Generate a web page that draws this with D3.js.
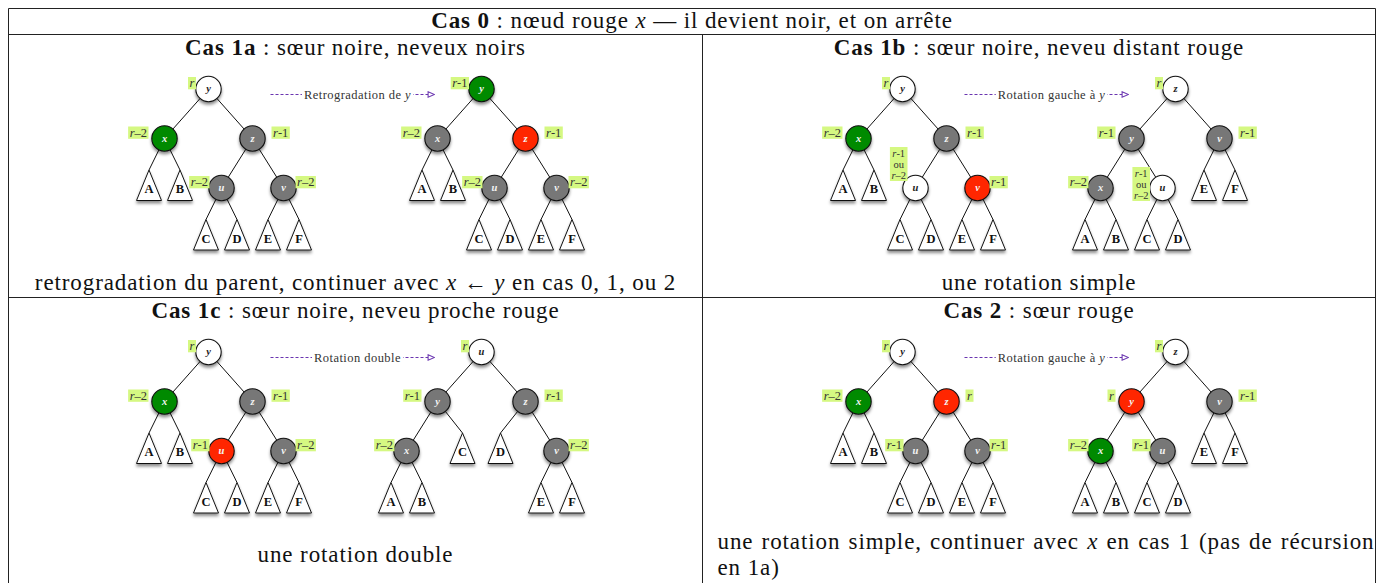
<!DOCTYPE html>
<html>
<head>
<meta charset="utf-8">
<script src="https://cdn.jsdelivr.net/npm/d3@7"></script>
<style>
  body { margin: 0; background: #fff; }
  svg { display: block; }
</style>
</head>
<body>
<script>
// Rich text pieces: [texte, style] with style "b" (bold), "i" (math italic) or "".
const titreCas0 = [["Cas 0", "b"], [" : nœud rouge ", ""], ["x", "i"], [" — il devient noir, et on arrête", ""]];
const titreCas1a = [["Cas 1a", "b"], [" : sœur noire, neveux noirs", ""]];
const titreCas1b = [["Cas 1b", "b"], [" : sœur noire, neveu distant rouge", ""]];
const titreCas1c = [["Cas 1c", "b"], [" : sœur noire, neveu proche rouge", ""]];
const titreCas2 = [["Cas 2", "b"], [" : sœur rouge", ""]];

const noteCas1a = [["retrogradation du parent, continuer avec ", ""], ["x", "i"], [" ← ", ""], ["y", "i"], [" en cas 0, 1, ou 2", ""]];
const noteCas1b = [["une rotation simple", ""]];
const noteCas1c = [["une rotation double", ""]];
const noteCas2 = [
  [["une rotation simple, continuer avec ", ""], ["x", "i"], [" en cas 1 (pas de récursion", ""]],
  [["en 1a)", ""]]
];

const flecheCas1a = [["Retrogradation de ", ""], ["y", "i"]];
const flecheCas1b = [["Rotation gauche à ", ""], ["y", "i"]];
const flecheCas1c = [["Rotation double", ""]];
const flecheCas2 = [["Rotation gauche à ", ""], ["y", "i"]];

// Trees: each node has its name, its colour state and its rank label; leaves are subtrees (triangles).
const OU = "r-1\nou\nr–2";
const cas1aAvant = {id: "y", etat: "blanc", rang: "r", enfants: [
  {id: "x", etat: "vert", rang: "r–2", enfants: ["A", "B"]},
  {id: "z", etat: "noir", rang: "r-1", enfants: [
    {id: "u", etat: "noir", rang: "r–2", enfants: ["C", "D"]},
    {id: "v", etat: "noir", rang: "r–2", enfants: ["E", "F"]}]}]};
const cas1aApres = {id: "y", etat: "vert", rang: "r-1", enfants: [
  {id: "x", etat: "noir", rang: "r–2", enfants: ["A", "B"]},
  {id: "z", etat: "rouge", rang: "r-1", enfants: [
    {id: "u", etat: "noir", rang: "r–2", enfants: ["C", "D"]},
    {id: "v", etat: "noir", rang: "r–2", enfants: ["E", "F"]}]}]};
const cas1bAvant = {id: "y", etat: "blanc", rang: "r", enfants: [
  {id: "x", etat: "vert", rang: "r–2", enfants: ["A", "B"]},
  {id: "z", etat: "noir", rang: "r-1", enfants: [
    {id: "u", etat: "blanc", rang: OU, enfants: ["C", "D"]},
    {id: "v", etat: "rouge", rang: "r-1", enfants: ["E", "F"]}]}]};
const cas1bApres = {id: "z", etat: "blanc", rang: "r", enfants: [
  {id: "y", etat: "noir", rang: "r-1", enfants: [
    {id: "x", etat: "noir", rang: "r–2", enfants: ["A", "B"]},
    {id: "u", etat: "blanc", rang: OU, enfants: ["C", "D"]}]},
  {id: "v", etat: "noir", rang: "r-1", enfants: ["E", "F"]}]};
const cas1cAvant = {id: "y", etat: "blanc", rang: "r", enfants: [
  {id: "x", etat: "vert", rang: "r–2", enfants: ["A", "B"]},
  {id: "z", etat: "noir", rang: "r-1", enfants: [
    {id: "u", etat: "rouge", rang: "r-1", enfants: ["C", "D"]},
    {id: "v", etat: "noir", rang: "r–2", enfants: ["E", "F"]}]}]};
const cas1cApres = {id: "u", etat: "blanc", rang: "r", enfants: [
  {id: "y", etat: "noir", rang: "r-1", enfants: [
    {id: "x", etat: "noir", rang: "r–2", enfants: ["A", "B"]}, "C"]},
  {id: "z", etat: "noir", rang: "r-1", enfants: [
    "D", {id: "v", etat: "noir", rang: "r–2", enfants: ["E", "F"]}]}]};
const cas2Avant = {id: "y", etat: "blanc", rang: "r", enfants: [
  {id: "x", etat: "vert", rang: "r–2", enfants: ["A", "B"]},
  {id: "z", etat: "rouge", rang: "r", enfants: [
    {id: "u", etat: "noir", rang: "r-1", enfants: ["C", "D"]},
    {id: "v", etat: "noir", rang: "r-1", enfants: ["E", "F"]}]}]};
const cas2Apres = {id: "z", etat: "blanc", rang: "r", enfants: [
  {id: "y", etat: "rouge", rang: "r", enfants: [
    {id: "x", etat: "vert", rang: "r–2", enfants: ["A", "B"]},
    {id: "u", etat: "noir", rang: "r-1", enfants: ["C", "D"]}]},
  {id: "v", etat: "noir", rang: "r-1", enfants: ["E", "F"]}]};

const cellules = [
  {col: 0, ligne: 0, titre: titreCas1a, avant: cas1aAvant, apres: cas1aApres, fleche: flecheCas1a, note: [noteCas1a]},
  {col: 1, ligne: 0, titre: titreCas1b, avant: cas1bAvant, apres: cas1bApres, fleche: flecheCas1b, note: [noteCas1b]},
  {col: 0, ligne: 1, titre: titreCas1c, avant: cas1cAvant, apres: cas1cApres, fleche: flecheCas1c, note: [noteCas1c]},
  {col: 1, ligne: 1, titre: titreCas2, avant: cas2Avant, apres: cas2Apres, fleche: flecheCas2, note: noteCas2}
];

const W = 1382, H = 583;
const couleurs = {blanc: "#ffffff", noir: "#777777", vert: "#008a00", rouge: "#ff2600"};
const police = "'Liberation Serif', 'Times New Roman', serif";
const tailleTexte = 23;
const espacement = 0.9;

const table = {gauche: 8.5, droite: 1375.5, haut: 8.5, sep0: 34.5, sepLigne: 297.5, milieu: 702.5};
const colonnes = [[table.gauche, table.milieu], [table.milieu, table.droite]];
const lignes = [[table.sep0, table.sepLigne], [table.sepLigne, H + 20]];

const svg = d3.select("body").append("svg").attr("width", W).attr("height", H);

const defs = svg.append("defs");
defs.append("filter").attr("id", "ombre")
  .attr("x", "-50%").attr("y", "-50%").attr("width", "200%").attr("height", "200%")
  .append("feDropShadow")
  .attr("dx", 0).attr("dy", 2.5).attr("stdDeviation", 1.4)
  .attr("flood-color", "#000").attr("flood-opacity", 0.45);
defs.append("marker").attr("id", "pointe")
  .attr("viewBox", "0 0 10 10").attr("refX", 9).attr("refY", 5)
  .attr("markerWidth", 8).attr("markerHeight", 8).attr("markerUnits", "userSpaceOnUse")
  .attr("orient", "auto")
  .append("path").attr("d", "M1,1.5 L9,5 L1,8.5 Z")
  .attr("fill", "#fff").attr("stroke", "#6a35b0").attr("stroke-width", 1.3);

// Writes rich text segments into a text element.
function ecrire(sel, morceaux) {
  morceaux.forEach(([t, s]) => {
    sel.append("tspan").text(t)
      .attr("font-weight", s === "b" ? "bold" : null)
      .attr("font-style", s === "i" ? "italic" : null);
  });
  return sel;
}

function texte(parent, x, y, ancre) {
  return parent.append("text").attr("x", x).attr("y", y)
    .attr("text-anchor", ancre).attr("font-family", police).attr("font-size", tailleTexte)
    .attr("letter-spacing", espacement).attr("fill", "#111");
}

// Table rules.
const regles = svg.append("g").attr("stroke", "#222").attr("stroke-width", 1);
regles.append("line").attr("x1", table.gauche).attr("x2", table.droite).attr("y1", table.haut).attr("y2", table.haut);
regles.append("line").attr("x1", table.gauche).attr("x2", table.droite).attr("y1", table.sep0).attr("y2", table.sep0);
regles.append("line").attr("x1", table.gauche).attr("x2", table.droite).attr("y1", table.sepLigne).attr("y2", table.sepLigne);
regles.append("line").attr("x1", table.gauche).attr("x2", table.gauche).attr("y1", table.haut).attr("y2", H);
regles.append("line").attr("x1", table.droite).attr("x2", table.droite).attr("y1", table.haut).attr("y2", H);
regles.append("line").attr("x1", table.milieu).attr("x2", table.milieu).attr("y1", table.sep0).attr("y2", H);

ecrire(texte(svg, (table.gauche + table.droite) / 2, 28, "middle"), titreCas0);

// Horizontal offset of a child from its parent.
function ecart(noeud) {
  const feuille = !noeud.children;
  const frere = noeud.parent.children.find(f => f !== noeud);
  const frereFeuille = frere && !frere.children;
  if (feuille && frereFeuille) return 15.5;
  if (feuille) return 25;
  return noeud.depth === 1 ? 44 : 31;
}

function dessinerArbre(g, donnees, x0, y0) {
  const racine = d3.hierarchy(donnees, d => (typeof d === "string" ? null : d.enfants));
  const pas = 49.5;
  racine.eachBefore(n => {
    if (!n.parent) { n.px = x0; }
    else {
      const cote = n.parent.children.indexOf(n) === 0 ? -1 : 1;
      n.px = n.parent.px + cote * ecart(n);
    }
    n.py = y0 + n.depth * pas;
    // the right spine gets its label on the right
    n.droite = !!n.parent && (n.parent.children.indexOf(n) === 1) && (!n.parent.parent || n.parent.droite);
  });

  const noeuds = racine.descendants();
  const internes = noeuds.filter(n => n.children);
  const feuilles = noeuds.filter(n => !n.children);

  g.append("g").attr("stroke", "#111").attr("stroke-width", 1)
    .selectAll("line").data(racine.links()).join("line")
    .attr("x1", d => d.source.px).attr("y1", d => d.source.py)
    .attr("x2", d => d.target.px).attr("y2", d => d.target.children ? d.target.py : d.target.py - 18);

  const tri = g.append("g").selectAll("g").data(feuilles).join("g")
    .attr("transform", d => `translate(${d.px},${d.py})`);
  tri.append("path")
    .attr("d", "M0,-18 L12.5,12.5 L-12.5,12.5 Z")
    .attr("fill", "#fff").attr("stroke", "#111").attr("stroke-width", 1)
    .attr("filter", "url(#ombre)");
  tri.append("text").text(d => d.data)
    .attr("y", 5.3).attr("text-anchor", "middle")
    .attr("font-family", police).attr("font-weight", "bold").attr("font-size", 12.5)
    .attr("fill", "#111");

  const rond = g.append("g").selectAll("g").data(internes).join("g")
    .attr("transform", d => `translate(${d.px},${d.py})`);
  rond.append("circle").attr("r", 12.7)
    .attr("fill", d => couleurs[d.data.etat])
    .attr("stroke", "#111").attr("stroke-width", 1.1)
    .attr("filter", "url(#ombre)");
  rond.append("text").text(d => d.data.id)
    .attr("y", 3.2).attr("text-anchor", "middle")
    .attr("font-family", police).attr("font-style", "italic").attr("font-weight", "bold")
    .attr("font-size", 10.5)
    .attr("fill", d => d.data.etat === "blanc" ? "#222" : "#f4f4f4");

  // rank labels on a lime background
  internes.forEach(n => {
    const lignesRang = n.data.rang.split("\n");
    const multi = lignesRang.length > 1;
    const lg = g.append("g");
    const fond = lg.append("rect").attr("fill", "#d5f882");
    const t = lg.append("text").attr("font-family", police).attr("font-size", multi ? 10.5 : 12.5)
      .attr("fill", "#333").attr("text-anchor", "middle");
    lignesRang.forEach((l, i) => {
      const ts = t.append("tspan").attr("x", 0).attr("dy", i === 0 ? 0 : 11);
      if (l.charAt(0) === "r") {
        ts.append("tspan").attr("font-style", "italic").text("r");
        ts.append("tspan").text(l.slice(1));
      } else {
        ts.text(l);
      }
    });
    const bb = t.node().getBBox();
    const w = bb.width + 3, h = multi ? 34 : 12.3;
    let gx, gy;
    if (!n.parent) { gx = n.px - 12.5 - w; gy = n.py - 12; }
    else if (multi) {
      if (n.parent.children.indexOf(n) === 0) { gx = n.px - 8 - w; gy = n.py - 7 - h; }
      else { gx = n.px - 12.5 - w; gy = n.py - 4 - h / 2; }
    } else if (n.droite) { gx = n.px + (n.depth === 1 ? 19 : 12); gy = n.py - 12; }
    else { gx = n.px - (n.depth === 1 ? 16 : 12) - w; gy = n.py - 12; }
    fond.attr("x", gx).attr("y", gy).attr("width", w).attr("height", h);
    t.attr("transform", `translate(${gx + w / 2},${gy + (multi ? 9.5 : 10)})`);
  });
}

cellules.forEach(c => {
  const [xa, xb] = colonnes[c.col];
  const [ya, yb] = lignes[c.ligne];
  const cx = (xa + xb) / 2;
  const g = svg.append("g");

  ecrire(texte(g, cx, ya + 20, "middle"), c.titre);

  const rx1 = xa + 200, rx2 = rx1 + 273, ry = ya + 54.5;

  // dashed arrow with its caption
  const fy = ry + 5.5, fx1 = rx1 + 62, fx2 = rx2 - 47;
  const fg = g.append("g");
  fg.append("line").attr("x1", fx1).attr("x2", fx2).attr("y1", fy).attr("y2", fy)
    .attr("stroke", "#6a35b0").attr("stroke-width", 1.2).attr("stroke-dasharray", "3,2")
    .attr("marker-end", "url(#pointe)");
  const fondF = fg.append("rect").attr("fill", "#fff");
  const tf = ecrire(fg.append("text").attr("x", (fx1 + fx2) / 2 + 5).attr("y", fy + 4)
    .attr("text-anchor", "middle").attr("font-family", police).attr("font-size", 12.5)
    .attr("letter-spacing", 0.45).attr("fill", "#333"), c.fleche);
  const bf = tf.node().getBBox();
  fondF.attr("x", bf.x - 2).attr("y", bf.y).attr("width", bf.width + 4).attr("height", bf.height);

  dessinerArbre(g, c.avant, rx1, ry);
  dessinerArbre(g, c.apres, rx2, ry);

  if (c.note.length === 1) {
    const ny = c.ligne === 0 ? yb - 8 : ya + 264.5;
    ecrire(texte(g, cx, ny, "middle"), c.note[0]);
  } else {
    c.note.forEach((l, i) => {
      const t = ecrire(texte(g, xa + 15, ya + 251.5 + i * 26, "start"), l);
      if (i < c.note.length - 1) {
        // justify the wrapped line by widening the word spaces
        const cible = xb - xa - 16;
        const naturel = t.node().getComputedTextLength();
        const blancs = l.map(m => m[0]).join("").split(" ").length - 1;
        t.attr("word-spacing", Math.max(0, (cible - naturel) / blancs));
      }
    });
  }
});
</script>
</body>
</html>
